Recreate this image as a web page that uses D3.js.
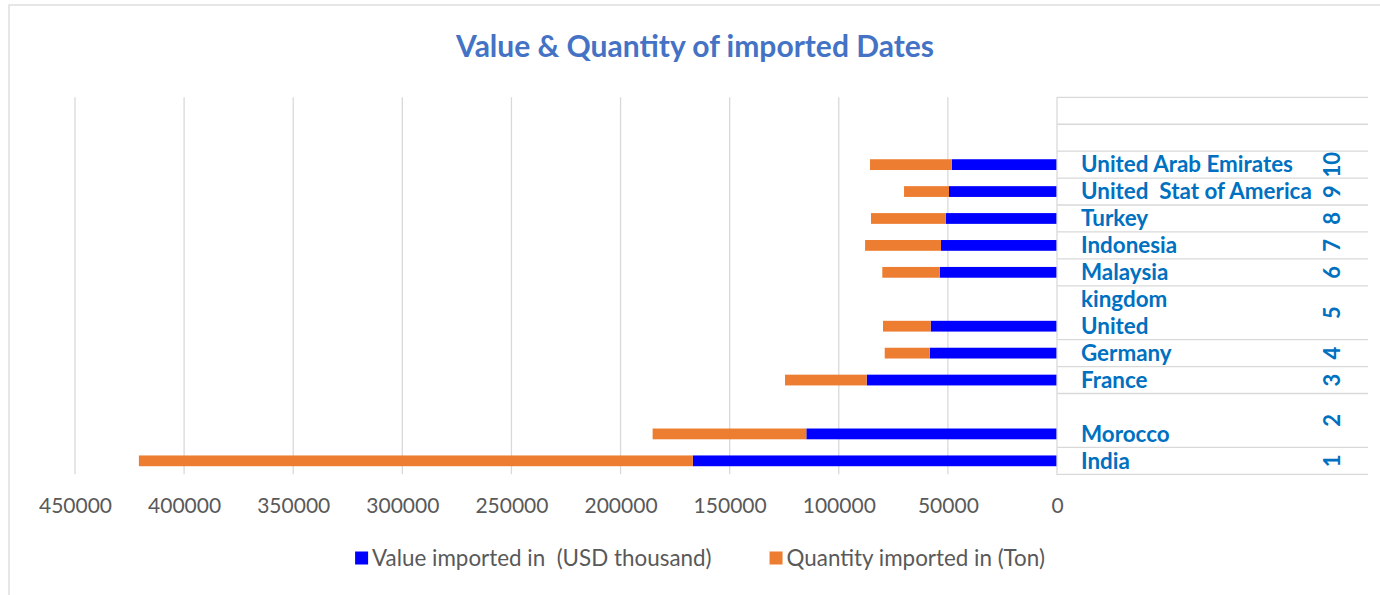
<!DOCTYPE html>
<html>
<head>
<meta charset="utf-8">
<script src="https://cdn.jsdelivr.net/npm/d3@7"></script>
<style>
  body { margin: 0; background: #fff; }
  text { font-family: Lato, "Liberation Sans", sans-serif; }
</style>
</head>
<body>
<svg id="chart" width="1380" height="595"></svg>
<script>
// rows listed bottom to top, like the sheet
var countries = ["India", "Morocco", "", "France", "Germany", "United", "kingdom",
                 "Malaysia", "Indonesia", "Turkey", "United  Stat of America", "United Arab Emirates", "", ""];
var groups    = ["1", "2", "2", "3", "4", "5", "5", "6", "7", "8", "9", "10", "", " "];
var valueUSD  = [166880, 114870, null, 87200, 58330, 57870, null, 53750, 53150, 51000, 49490, 48250, null, null];
var quantity  = [253840, 70430, null, 37430, 20620, 21860, null, 26300, 34800, 34230, 20600, 37430, null, null];
var xTicks    = [0, 50000, 100000, 150000, 200000, 250000, 300000, 350000, 400000, 450000];
var seriesNames = ["Value imported in  (USD thousand)", "Quantity imported in (Ton)"];
var colors    = ["#0000FF", "#ED7D31"];

var svg = d3.select("#chart");
var grid_color = "#D9D9D9";
var label_color = "#0070C0";
var plotLeft = 75, plotRight = 1057, plotTop = 97.3, plotBottom = 474.3, tableRight = 1368;

var x = d3.scaleLinear().domain([0, 450000]).range([plotRight, plotLeft]);
var rowIdx = d3.range(countries.length);
var y = d3.scaleBand().domain(rowIdx).range([plotBottom, plotTop]).paddingInner(0);
var barH = y.bandwidth() / 2.5;

// chart frame
svg.append("rect")
    .attr("x", 9).attr("y", 5)
    .attr("width", 1400).attr("height", 620)
    .attr("fill", "none")
    .attr("stroke", grid_color)
    .attr("stroke-width", 1.3);

// Title
svg.append("text")
    .text("Value & Quantity of imported Dates")
    .attr("x", 695)
    .attr("y", 57)
    .attr("text-anchor", "middle")
    .attr("font-size", 30)
    .attr("font-weight", "bold")
    .attr("fill", "#4472C4");

// Gridlines
svg.append("g").selectAll("line")
    .data(xTicks.filter(function(d){ return d > 0; }))
    .enter().append("line")
    .attr("x1", function(d){ return x(d); })
    .attr("x2", function(d){ return x(d); })
    .attr("y1", plotTop)
    .attr("y2", plotBottom)
    .attr("stroke", grid_color)
    .attr("stroke-width", 1.3);

// x axis labels
var xAxis = d3.axisBottom(x)
    .tickValues(xTicks)
    .tickSize(0)
    .tickPadding(0)
    .tickFormat(d3.format("d"));
var xg = svg.append("g")
    .attr("transform", "translate(0," + 498 + ")")
    .call(xAxis);
xg.select(".domain").remove();
xg.selectAll("text")
    .attr("font-size", 21)
    .attr("fill", "#595959")
    .attr("font-family", "Lato, sans-serif");

// Bars
var rows = rowIdx.filter(function(i){ return valueUSD[i] != null; });
var bars = svg.append("g");
bars.selectAll("rect.value")
    .data(rows)
    .enter().append("rect")
    .attr("class", "value")
    .attr("x", function(i){ return x(valueUSD[i]); })
    .attr("y", function(i){ return y(i) + (y.bandwidth() - barH) / 2; })
    .attr("width", function(i){ return x(0) - x(valueUSD[i]); })
    .attr("height", barH)
    .attr("fill", colors[0]);
bars.selectAll("rect.qty")
    .data(rows)
    .enter().append("rect")
    .attr("class", "qty")
    .attr("x", function(i){ return x(valueUSD[i] + quantity[i]); })
    .attr("y", function(i){ return y(i) + (y.bandwidth() - barH) / 2; })
    .attr("width", function(i){ return x(valueUSD[i]) - x(valueUSD[i] + quantity[i]); })
    .attr("height", barH)
    .attr("fill", colors[1]);

// Category axis (two levels)
var cat = svg.append("g");
cat.append("line")
    .attr("x1", plotRight).attr("x2", plotRight)
    .attr("y1", plotTop).attr("y2", plotBottom + 1)
    .attr("stroke", grid_color)
    .attr("stroke-width", 1.3);

// group boundaries
var bounds = [0];
rowIdx.forEach(function(i){
    if (i > 0 && groups[i] !== groups[i - 1]) bounds.push(i);
});
bounds.push(countries.length);
cat.selectAll("line.sep")
    .data(bounds)
    .enter().append("line")
    .attr("class", "sep")
    .attr("x1", plotRight)
    .attr("x2", tableRight)
    .attr("y1", function(b){ return b < countries.length ? y(b) + y.bandwidth() : plotTop; })
    .attr("y2", function(b){ return b < countries.length ? y(b) + y.bandwidth() : plotTop; })
    .attr("stroke", grid_color)
    .attr("stroke-width", 1.3);

cat.selectAll("text.country")
    .data(rowIdx)
    .enter().append("text")
    .attr("class", "country")
    .text(function(i){ return countries[i]; })
    .attr("x", 1081)
    .attr("y", function(i){ return y(i) + y.bandwidth() / 2; })
    .attr("dy", "0.35em")
    .attr("font-size", 22.4)
    .attr("font-weight", "bold")
    .attr("fill", label_color)
    .style("white-space", "pre");

var groupSpans = [];
for (var b = 0; b < bounds.length - 1; b++) {
    groupSpans.push({ name: groups[bounds[b]], from: bounds[b], to: bounds[b + 1] - 1 });
}
cat.selectAll("text.group")
    .data(groupSpans)
    .enter().append("text")
    .attr("class", "group")
    .text(function(g){ return g.name.trim(); })
    .attr("transform", function(g){
        var cy = (y(g.from) + y.bandwidth() + y(g.to)) / 2;
        return "translate(1332," + cy + ") rotate(-90)";
    })
    .attr("text-anchor", "middle")
    .attr("dy", "0.35em")
    .attr("font-size", 22)
    .attr("font-weight", "bold")
    .attr("fill", label_color);

// Legend
var legend = svg.append("g");
var items = legend.selectAll("g")
    .data(seriesNames)
    .enter().append("g");
items.append("rect")
    .attr("width", 13).attr("height", 13)
    .attr("y", -6.5)
    .attr("fill", function(d, i){ return colors[i]; });
items.append("text")
    .text(function(d){ return d; })
    .attr("x", 17)
    .attr("dy", "0.35em")
    .attr("font-size", 22.4)
    .attr("fill", "#595959")
    .style("white-space", "pre");
var lx = 0, gap = 58;
items.each(function(){
    var w = this.getBBox().width;
    d3.select(this).attr("transform", "translate(" + lx + ",0)");
    lx += w + gap;
});
lx -= gap;
legend.attr("transform", "translate(" + (700 - lx / 2) + ",558)");
</script>
</body>
</html>
